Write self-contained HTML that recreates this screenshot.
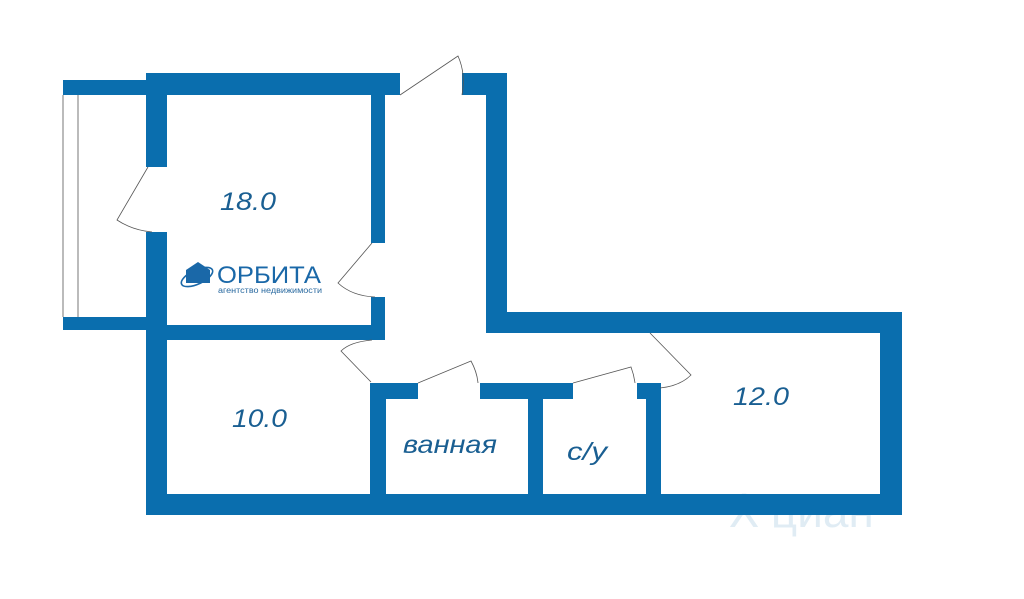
<!DOCTYPE html>
<html><head><meta charset="utf-8"><style>
html,body{margin:0;padding:0;background:#fff;width:1024px;height:599px;overflow:hidden}
svg{position:absolute;left:0;top:0}
</style></head><body>
<svg width="1024" height="599" viewBox="0 0 1024 599" xmlns="http://www.w3.org/2000/svg">
<g fill="#0a6eae">
<rect x="146" y="73" width="254" height="22"/>
<rect x="63" y="80" width="84" height="15"/>
<rect x="63" y="317" width="84" height="13"/>
<rect x="146" y="73" width="21" height="94"/>
<rect x="146" y="232" width="21" height="283"/>
<rect x="371" y="95" width="14" height="148"/>
<rect x="371" y="297" width="14" height="43"/>
<rect x="146" y="325" width="239" height="15"/>
<rect x="462" y="73" width="45" height="22"/>
<rect x="486" y="73" width="21" height="260"/>
<rect x="486" y="312" width="416" height="21"/>
<rect x="880" y="312" width="22" height="203"/>
<rect x="146" y="494" width="756" height="21"/>
<rect x="370" y="383" width="48" height="16"/>
<rect x="480" y="383" width="93" height="16"/>
<rect x="637" y="383" width="23" height="16"/>
<rect x="370" y="383" width="16" height="112"/>
<rect x="528" y="383" width="15" height="112"/>
<rect x="646" y="383" width="15" height="112"/>
</g>
<g stroke="#555" stroke-width="0.8" fill="none">
<line x1="63" y1="95" x2="63" y2="317"/>
<line x1="78" y1="95" x2="78" y2="317"/>
<path d="M400 95 L458 56 Q466 74 462 95"/>
<path d="M148 167 L117 220 Q132 230 152 232"/>
<path d="M372 243 L338 283 Q352 296 375 297"/>
<path d="M372 340 Q350 342 341 351 L371 382"/>
<path d="M418 383 L471 361 Q477 372 478 383"/>
<path d="M573 383 L631 367 Q634 375 635 383"/>
<path d="M650 333 L691 375 Q680 386 660 388"/>
</g>
<g font-family="Liberation Sans, sans-serif" font-style="italic" fill="#1a5f92" font-size="25">
<text x="220" y="210" textLength="56" lengthAdjust="spacingAndGlyphs">18.0</text>
<text x="232" y="427" textLength="55" lengthAdjust="spacingAndGlyphs">10.0</text>
<text x="403" y="453" textLength="94" lengthAdjust="spacingAndGlyphs">ванная</text>
<text x="567" y="460" textLength="40" lengthAdjust="spacingAndGlyphs">с/у</text>
<text x="733" y="405" textLength="56" lengthAdjust="spacingAndGlyphs">12.0</text>
</g>
<g>
<path d="M186 283 L186 270 L198 262 L210 270 L210 283 Z" fill="#1a68a8"/>
<ellipse cx="197" cy="277" rx="17" ry="7" transform="rotate(-25 197 277)" fill="none" stroke="#1a68a8" stroke-width="1.6"/>
<text x="217" y="283" font-family="Liberation Sans, sans-serif" font-size="24" fill="#1a68a8" textLength="104" lengthAdjust="spacingAndGlyphs">ОРБИТА</text>
<text x="218" y="293" font-family="Liberation Sans, sans-serif" font-size="8" fill="#2a6aa0" textLength="104" lengthAdjust="spacingAndGlyphs">агентство недвижимости</text>
</g>
<text x="730" y="527" font-family="Liberation Sans, sans-serif" font-size="46" fill="#0a6eae" opacity="0.12">⅄ циан</text>
</svg>
</body></html>
